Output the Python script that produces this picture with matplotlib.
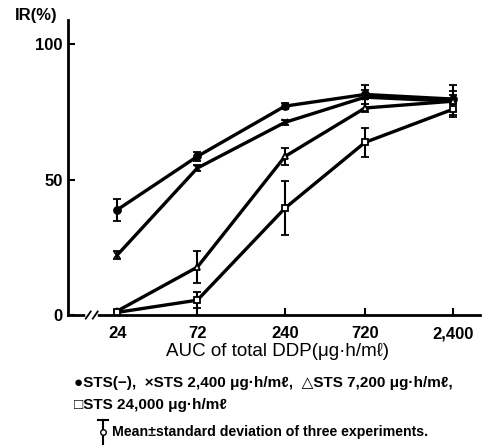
import numpy as np
import matplotlib.pyplot as plt

plt.rcParams['font.family'] = ['Liberation Sans', 'DejaVu Sans']

# AUC of total DDP (ug.h/ml)
auc = [24, 72, 240, 720, 2400]
tick_labels = ['24', '72', '240', '720', '2,400']

# IR (%) mean and SD per STS dose
sts_none = [38.9, 58.6, 77.2, 81.5, 79.8]
sts_none_sd = [4.0, 1.5, 1.0, 1.5, 1.5]
sts_2400 = [22.2, 54.3, 71.2, 80.5, 79.0]
sts_2400_sd = [1.5, 1.0, 1.0, 4.5, 6.0]
sts_7200 = [1.5, 17.7, 58.6, 76.5, 79.0]
sts_7200_sd = [0.5, 6.0, 3.0, 1.5, 3.6]
sts_24000 = [1.0, 5.5, 39.5, 63.8, 76.0]
sts_24000_sd = [0.5, 3.0, 10.0, 5.4, 2.0]

fig = plt.figure(figsize=(4.86, 4.45), dpi=100)
ax = fig.add_axes([0.14, 0.292, 0.848, 0.663])

series = [
    (sts_none, sts_none_sd, 'o', 'black'),
    (sts_2400, sts_2400_sd, 'x', 'black'),
    (sts_7200, sts_7200_sd, '^', 'white'),
    (sts_24000, sts_24000_sd, 's', 'white'),
]
for y, sd, m, fc in series:
    ax.errorbar(auc, y, yerr=sd, color='black', lw=2.4, marker=m, ms=5,
                mfc=fc, mec='black', mew=1.3, elinewidth=1.5, capsize=3,
                capthick=1.5, clip_on=False, zorder=3)

ax.set_xscale('log')
ax.set_xlim(12.2, 3500)
ax.set_ylim(0, 109)
ax.set_xticks(auc)
ax.set_xticklabels(tick_labels)
ax.minorticks_off()
ax.set_yticks([0, 50, 100])
ax.set_yticklabels(['0', '50', '100'])
ax.tick_params(direction='in', length=5, width=1.5, labelsize=12, pad=4)
ax.tick_params(axis='x', pad=8)
for lab in ax.get_xticklabels() + ax.get_yticklabels():
    lab.set_fontweight('bold')
for s in ['top', 'right']:
    ax.spines[s].set_visible(False)
for s in ['left', 'bottom']:
    ax.spines[s].set_linewidth(2)

# axis break
ax.plot([0.049, 0.066], [0, 0], color='white', lw=4, transform=ax.transAxes,
        clip_on=False, zorder=5)
for xb in [0.049, 0.066]:
    ax.plot([xb - 0.006, xb + 0.006], [-0.012, 0.012], color='black', lw=1.3,
            transform=ax.transAxes, clip_on=False, zorder=6)

fig.text(0.03, 0.965, 'IR(%)', fontsize=12, fontweight='bold', va='center')
fig.text(0.57, 0.21, 'AUC of total DDP(μg·h/mℓ)', fontsize=13.5,
         ha='center', va='center')
fig.text(0.152, 0.139, '●STS(−),  ×STS 2,400 μg·h/mℓ,  △STS 7,200 μg·h/mℓ,',
         fontsize=11, fontweight='bold', va='center')
fig.text(0.152, 0.09, '□STS 24,000 μg·h/mℓ', fontsize=11, fontweight='bold',
         va='center')
fig.text(0.23, 0.029, 'Mean±standard deviation of three experiments.',
         fontsize=10.2, fontweight='bold', va='center')
fig.add_artist(plt.Line2D([0.212, 0.212], [0.0, 0.056], color='black', lw=1.5))
fig.add_artist(plt.Line2D([0.202, 0.222], [0.056, 0.056], color='black', lw=1.5))
fig.add_artist(plt.Line2D([0.212], [0.03], color='black', marker='o', ms=4,
                          mfc='white', mec='black'))

fig.savefig('out.png', dpi=100)
